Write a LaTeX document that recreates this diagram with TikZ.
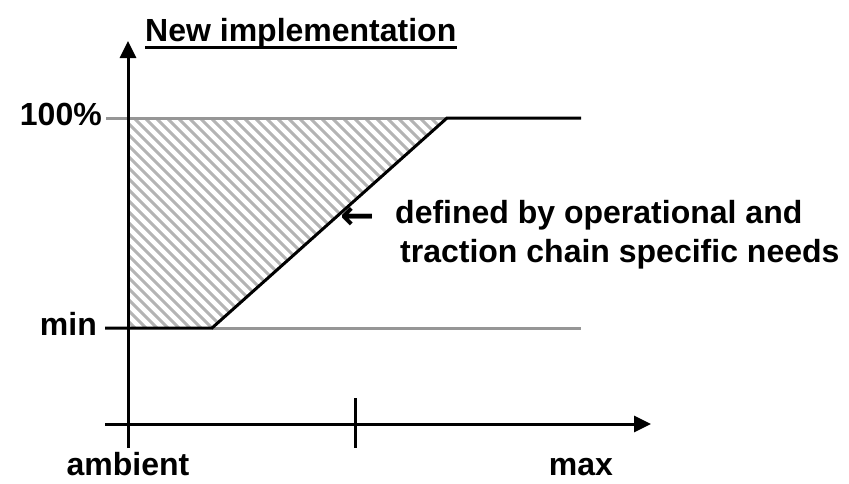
\documentclass[tikz,border=0pt]{standalone}
\usepackage{fontspec}
\setmainfont{Liberation Sans}
\newfontfamily\arrowfont{DejaVu Sans}
\usetikzlibrary{arrows.meta}

\definecolor{guide}{RGB}{150,150,150}
\definecolor{hatch}{RGB}{180,180,180}

\begin{document}
\begin{tikzpicture}[x=1pt,y=-1pt,
  lbl/.style={font=\fontsize{32}{38}\selectfont\bfseries, inner sep=0pt},
  axisline/.style={line width=3pt, black},
  curveline/.style={line width=3pt, black},
  guideline/.style={line width=3pt, guide},
  hatchline/.style={line width=3pt, hatch},
  axistip/.style={-{Triangle[length=17pt,width=16pt]}}]
\useasboundingbox (0,0) rectangle (849,483);

% key points of the characteristic
\coordinate (topL) at (128,118);
\coordinate (topK) at (447,118);
\coordinate (topR) at (581,118);
\coordinate (minL) at (128,328);
\coordinate (minK) at (212,328);
\coordinate (minR) at (581,328);

% hatched area above the ramp
\begin{scope}
  \clip (topL) -- (topK) -- (minK) -- (minL) -- cycle;
  \foreach \c in {-500,-489,...,260}
    \draw[hatchline] (100,100+\c) -- (480,480+\c);
\end{scope}

% reference levels
\draw[guideline] (106,118) -- (topK);
\draw[guideline] (minK) -- (minR);

% characteristic
\draw[curveline] (105,328) -- (minK) -- (topK) -- (topR);

% axes
\coordinate (ybot) at (128,448);
\coordinate (ytop) at (128,41);
\coordinate (xleft) at (105,424);
\coordinate (xright) at (651,424);
\draw[axisline, axistip] (ybot) -- (ytop);
\draw[axisline, axistip] (xleft) -- (xright);
\coordinate (tickT) at (355,398);
\coordinate (tickB) at (355,448);
\draw[axisline] (tickT) -- (tickB);

% labels
\node[lbl, anchor=base west] (title) at (145,41) {New implementation};
\draw[line width=3pt] ([yshift=-6pt]title.base west) -- ([yshift=-6pt]title.base east);
\node[lbl, anchor=base east] (full) at (102,125) {100\%};
\node[lbl, anchor=base east] (minlbl) at (97,335) {min};
\node[lbl, anchor=base] (amb) at (128,475) {ambient};
\node[lbl, anchor=base] (maxlbl) at (581,475) {max};
\node[inner sep=0pt, font=\fontsize{41}{44}\selectfont\arrowfont\bfseries] (ptr) at (358,218) {←};
\node[lbl, anchor=base west] (note1) at (395,223) {defined by operational and};
\node[lbl, anchor=base west] (note2) at (400,262) {traction chain specific needs};
\end{tikzpicture}
\end{document}
